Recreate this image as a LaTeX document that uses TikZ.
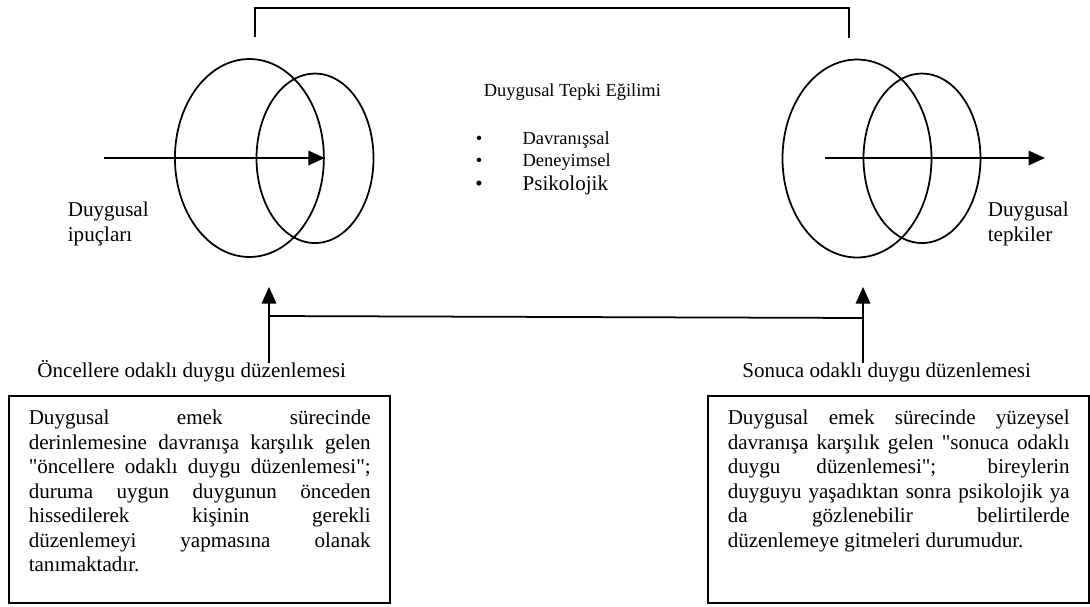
\documentclass[tikz,border=0pt]{standalone}
\usepackage{fontspec}
\setmainfont{Liberation Serif}[Ligatures=TeXOff]
\usetikzlibrary{arrows.meta,shapes.geometric,positioning}
\tolerance=10000
\hbadness=10000
\hyphenpenalty=10000

\begin{document}
\begin{tikzpicture}[x=0.02cm,y=-0.02cm,line width=1pt,>={Triangle[length=0.33cm,width=0.29cm]},
  every node/.style={font=\fontsize{12}{13.95}\selectfont,inner sep=0pt},
  bigring/.style={draw,ellipse,minimum width=2.98cm,minimum height=3.96cm},
  smallring/.style={draw,ellipse,minimum width=2.34cm,minimum height=3.39cm},
  small/.style={font=\fontsize{10.5}{12}\selectfont},
  textbox/.style={draw,line width=1.1pt,anchor=north west,inner xsep=0.39cm,inner ysep=0.276cm,
    text width=6.84cm,align=justify,text height=0.3cm,text depth=3.288cm}]
  \useasboundingbox (0,0) rectangle (1090,606);

  \node[bigring]   (lbig)   at (249.4,158) {};
  \node[smallring] (lsmall) at (315,158.3) {};
  \node[bigring]   (rbig)   at (857,158.5) {};
  \node[smallring] (rsmall) at (922,158.3) {};

  \coordinate (lbrk) at (255,37);
  \coordinate (rbrk) at (849,38);
  \draw (lbrk) -- ++(0,-29) -| (rbrk);

  \coordinate (lin)  at (104,158);
  \coordinate (rin)  at (825,158);
  \coordinate (rout) at (1045,158);
  \draw[->] (lin) -- (lbig.east);
  \draw[->] (rin) -- (rout);

  \node[anchor=west,align=left] (cues) at (67,224)  {Duygusal\\ipuçları};
  \node[anchor=west,align=left] (resp) at (987,224) {Duygusal\\tepkiler};

  \node[small,anchor=base west] (trend) at (483,96) {Duygusal Tepki Eğilimi};
  \node[small,anchor=base]      (dot1)  at (479,144) {\textbullet};
  \node[small,anchor=base west] (item1) at (521.7,144) {Davranışsal};
  \node[small,anchor=base]      (dot2)  at (479,166.5) {\textbullet};
  \node[small,anchor=base west] (item2) at (521.7,166.5) {Deneyimsel};
  \node[anchor=base]            (dot3)  at (479,190.5) {\textbullet};
  \node[anchor=base west]       (item3) at (521.7,190.5) {Psikolojik};

  \coordinate (lfoot) at (269,363);
  \coordinate (lhead) at (269,287);
  \coordinate (rfoot) at (863,363);
  \coordinate (rhead) at (863,287);
  \draw[->] (lfoot) -- (lhead);
  \draw[->] (rfoot) -- (rhead);
  \draw (lfoot |- 0,316) -- (rfoot |- 0,318);

  \node[anchor=base west] (antlab) at (36.5,377)  {Öncellere odaklı duygu düzenlemesi};
  \node[anchor=base west] (reslab) at (741.4,377) {Sonuca odaklı duygu düzenlemesi};

  \node[textbox] (antbox) at (8.3,395) {Duygusal emek sürecinde\linebreak
    derinlemesine davranışa karşılık gelen\linebreak
    "öncellere odaklı duygu düzenlemesi";\linebreak
    duruma uygun duygunun önceden\linebreak
    hissedilerek kişinin gerekli\linebreak
    düzenlemeyi yapmasına olanak\linebreak
    tanımaktadır.};
  \node[textbox] (resbox) at (707.3,395) {Duygusal emek sürecinde yüzeysel\linebreak
    davranışa karşılık gelen "sonuca odaklı\linebreak
    duygu düzenlemesi"; bireylerin\linebreak
    duyguyu yaşadıktan sonra psikolojik ya\linebreak
    da gözlenebilir belirtilerde\linebreak
    düzenlemeye gitmeleri durumudur.};
\end{tikzpicture}
\end{document}
